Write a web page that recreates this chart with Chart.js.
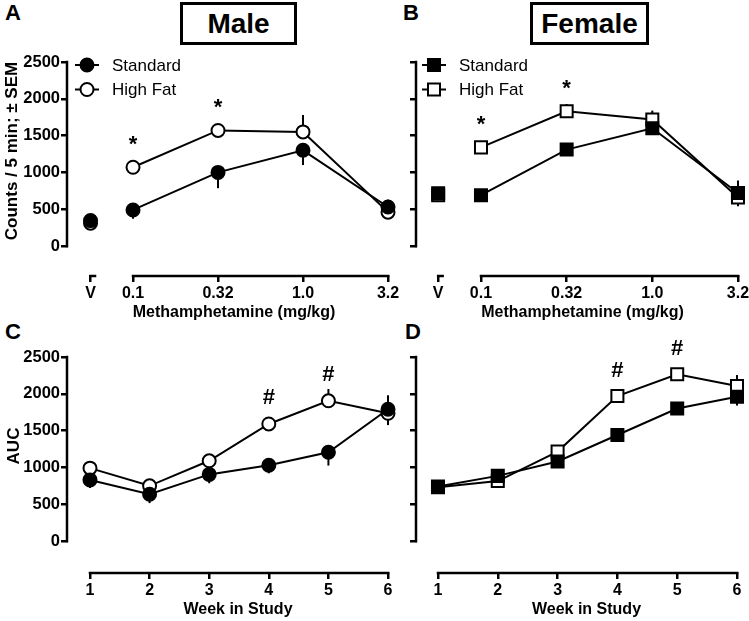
<!DOCTYPE html>
<html>
<head>
<meta charset="utf-8">
<script src="https://cdn.jsdelivr.net/npm/chart.js@4.4.1/dist/chart.umd.min.js"></script>
<style>
  html, body { margin: 0; padding: 0; background: #fff; overflow: hidden; width: 749px; height: 621px; }
  body { position: relative; font-family: 'Liberation Sans', Arial, sans-serif; color: #000; }
  canvas { position: absolute; }
  .letter { position: absolute; font-weight: bold; font-size: 22px; line-height: 22px; }
  .sexbox { position: absolute; border: 3px solid #000; box-sizing: border-box; font-weight: bold;
            font-size: 28px; text-align: center; line-height: 37px; background: #fff; }
</style>
</head>
<body>
<div class="letter" style="left:5px;top:2px">A</div>
<div class="letter" style="left:403px;top:2px">B</div>
<div class="letter" style="left:5px;top:321px">C</div>
<div class="letter" style="left:405px;top:321px">D</div>
<div class="sexbox" style="left:180px;top:2px;width:117px;height:43px">Male</div>
<div class="sexbox" style="left:530px;top:2px;width:119px;height:43px">Female</div>

<canvas id="cA" width="410" height="320" style="left:0;top:0"></canvas>
<canvas id="cB" width="360" height="320" style="left:400px;top:0"></canvas>
<canvas id="cC" width="410" height="311" style="left:0;top:310px"></canvas>
<canvas id="cD" width="360" height="311" style="left:400px;top:310px"></canvas>

<script>
// ---- data ----
const doseLabels = ['V', '0.1', '0.32', '1.0', '3.2'];
const weekLabels = ['1', '2', '3', '4', '5', '6'];
const yTicks = [0, 500, 1000, 1500, 2000, 2500];
const seriesNames = ['Standard', 'High Fat'];

const maleDoseStd    = [345, 490, 1000, 1300, 530];
const maleDoseStdSem = [30, 120, 215, 200, 100];
const maleDoseHF     = [310, 1070, 1570, 1550, 460];
const maleDoseHFSem  = [30, 60, 50, 230, 50];
const maleDoseSig    = ['', '*', '*', '', ''];

const femaleDoseStd    = [715, 690, 1310, 1600, 720];
const femaleDoseStdSem = [40, 40, 80, 60, 170];
const femaleDoseHF     = [690, 1340, 1830, 1720, 660];
const femaleDoseHFSem  = [40, 40, 100, 120, 120];
const femaleDoseSig    = ['', '*', '*', '', ''];

const maleWeekStd    = [830, 635, 905, 1030, 1205, 1790];
const maleWeekStdSem = [110, 120, 120, 110, 180, 190];
const maleWeekHF     = [990, 750, 1090, 1590, 1905, 1735];
const maleWeekHFSem  = [40, 40, 40, 40, 160, 160];
const maleWeekSig    = ['', '', '', '#', '#', ''];

const femaleWeekStd    = [740, 885, 1080, 1440, 1800, 1960];
const femaleWeekStdSem = [60, 75, 70, 70, 60, 120];
const femaleWeekHF     = [730, 815, 1215, 1970, 2265, 2105];
const femaleWeekHFSem  = [40, 40, 40, 40, 40, 150];
const femaleWeekSig    = ['', '', '', '#', '#', ''];

// vehicle sits half a step left of the lowest dose
const doseX = doseLabels.map((_, i) => i === 0 ? -0.5 : i - 1);
const weekX = weekLabels.map(Number);

const FONT = "'Liberation Sans', Arial, sans-serif";

function drawMarker(ctx, style, filled, x, y) {
  ctx.beginPath();
  if (style === 'circle') ctx.arc(x, y, 6.5, 0, Math.PI * 2);
  else ctx.rect(x - 6, y - 6, 12, 12);
  ctx.fillStyle = filled ? '#000' : '#fff';
  ctx.fill();
  ctx.lineWidth = 2;
  ctx.strokeStyle = '#000';
  ctx.stroke();
}

// error bars, axis lines, titles, legend and significance marks
const panelPlugin = {
  id: 'panel',
  beforeDatasetsDraw(chart, args, o) {
    const ctx = chart.ctx, xs = chart.scales.x, ys = chart.scales.y;
    const ds = chart.data.datasets;
    ctx.save();
    ctx.strokeStyle = '#000';
    ctx.lineWidth = 2;
    ds.forEach((d, di) => {
      const other = ds[1 - di];
      d.data.forEach((p, i) => {
        const up = p.y >= other.data[i].y;
        const px = xs.getPixelForValue(p.x);
        ctx.beginPath();
        ctx.moveTo(px, ys.getPixelForValue(p.y));
        ctx.lineTo(px, ys.getPixelForValue(up ? p.y + d.sem[i] : p.y - d.sem[i]));
        ctx.stroke();
      });
    });
    ctx.restore();
  },
  afterDraw(chart, args, o) {
    const ctx = chart.ctx, xs = chart.scales.x, ys = chart.scales.y;
    const area = chart.chartArea;
    ctx.save();
    ctx.strokeStyle = '#000';
    ctx.fillStyle = '#000';
    ctx.lineWidth = 2.5;
    ctx.lineCap = 'butt';
    // y axis line
    ctx.beginPath();
    ctx.moveTo(area.left - 1, ys.getPixelForValue(yTicks[0]) + 1.25);
    ctx.lineTo(area.left - 1, ys.getPixelForValue(yTicks[yTicks.length - 1]) - 1.25);
    ctx.stroke();
    // x axis segments
    const axY = area.bottom + 1;
    o.xSegs.forEach(([a, b]) => {
      const pa = xs.getPixelForValue(a) - 1.25;
      const pb = a === b ? pa + 7 : xs.getPixelForValue(b) + 1.25;
      ctx.beginPath();
      ctx.moveTo(pa, axY);
      ctx.lineTo(pb, axY);
      ctx.stroke();
    });
    // axis titles
    ctx.font = 'bold 16px ' + FONT;
    ctx.textAlign = 'center';
    ctx.textBaseline = 'middle';
    ctx.fillText(o.xTitle, (area.left + area.right) / 2 + (o.xTitleShift || 0), o.xTitleY);
    if (o.yTitle) {
      const mid = (ys.getPixelForValue(0) + ys.getPixelForValue(2500)) / 2;
      ctx.save();
      ctx.font = 'bold 17px ' + FONT;
      ctx.translate(o.yTitleX, mid - 3);
      ctx.rotate(-Math.PI / 2);
      ctx.fillText(o.yTitle, 0, 0);
      ctx.restore();
    }
    // legend
    if (o.legend) {
      chart.data.datasets.forEach((d, i) => {
        const ly = o.legend.y + i * 24.5;
        ctx.lineWidth = 2;
        ctx.beginPath();
        ctx.moveTo(o.legend.x - 12, ly);
        ctx.lineTo(o.legend.x + 12, ly);
        ctx.stroke();
        drawMarker(ctx, d.pointStyle, d.pointBackgroundColor === '#000', o.legend.x, ly);
        ctx.fillStyle = '#000';
        ctx.font = '17px ' + FONT;
        ctx.textAlign = 'left';
        ctx.textBaseline = 'middle';
        ctx.fillText(d.label, o.legend.x + 25, ly + 1);
      });
    }
    // significance marks above the higher point
    ctx.font = 'bold 22px ' + FONT;
    ctx.textAlign = 'center';
    ctx.textBaseline = 'alphabetic';
    o.sig.forEach((s, i) => {
      if (!s) return;
      const d0 = chart.data.datasets[0].data[i], d1 = chart.data.datasets[1].data[i];
      const top = ys.getPixelForValue(Math.max(d0.y, d1.y));
      const m = ctx.measureText(s);
      const cy = top - 27;
      ctx.fillText(s, xs.getPixelForValue(d0.x), cy + (m.actualBoundingBoxAscent - m.actualBoundingBoxDescent) / 2);
    });
    ctx.restore();
  }
};

function makePanel(id, p) {
  const pts = (vals) => vals.map((v, i) => ({ x: p.xs[i], y: v }));
  const base = {
    borderColor: '#000',
    borderWidth: 2,
    pointStyle: p.marker,
    pointRadius: p.marker === 'circle' ? 6.5 : 8.5,
    pointBorderWidth: 2,
    pointBorderColor: '#000',
    tension: 0,
    clip: false,
    segment: p.breakFirst ? { borderColor: c => c.p0DataIndex === 0 ? 'rgba(0,0,0,0)' : '#000' } : undefined
  };
  return new Chart(document.getElementById(id), {
    type: 'line',
    data: {
      datasets: [
        Object.assign({}, base, { label: seriesNames[0], data: pts(p.std), sem: p.stdSem, pointBackgroundColor: '#000' }),
        Object.assign({}, base, { label: seriesNames[1], data: pts(p.hf), sem: p.hfSem, pointBackgroundColor: '#fff' })
      ]
    },
    options: {
      responsive: false,
      animation: false,
      devicePixelRatio: 1,
      layout: { padding: { top: p.padTop, right: p.padRight, left: 0, bottom: 0 } },
      plugins: {
        legend: { display: false },
        tooltip: { enabled: false },
        panel: {
          xSegs: p.xSegs, xTitle: p.xTitle, xTitleY: p.xTitleY, xTitleShift: p.xTitleShift,
          yTitle: p.yTitle, yTitleX: p.yTitleX, legend: p.legend, sig: p.sig
        }
      },
      scales: {
        x: {
          type: 'linear',
          min: p.xMin, max: p.xMax,
          afterBuildTicks: s => { s.ticks = p.xs.map(v => ({ value: v })); },
          afterFit: s => { s.height = p.xH; },
          ticks: {
            callback: (v, i) => p.labels[i],
            autoSkip: false, maxRotation: 0, padding: 2, color: '#000',
            font: { family: FONT, size: 16, weight: 'bold' }
          },
          grid: { drawOnChartArea: false, tickLength: 7, color: '#000', lineWidth: 2.5 },
          border: { display: false }
        },
        y: {
          min: p.yMin, max: 2500,
          afterBuildTicks: s => { s.ticks = yTicks.map(v => ({ value: v })); },
          afterFit: s => { s.width = p.yW; },
          ticks: {
            display: p.showY, padding: 1, color: '#000',
            callback: v => String(v),
            font: { family: FONT, size: 16.5, weight: 'bold' }
          },
          grid: { drawOnChartArea: false, tickLength: 7, color: '#000', lineWidth: 2.5 },
          border: { display: false }
        }
      }
    },
    plugins: [panelPlugin]
  });
}

makePanel('cA', {
  xs: doseX, labels: doseLabels, std: maleDoseStd, stdSem: maleDoseStdSem, hf: maleDoseHF, hfSem: maleDoseHFSem,
  sig: maleDoseSig, marker: 'circle', breakFirst: true,
  yW: 68, xH: 45, padTop: 62, padRight: 10, xMin: -0.765, xMax: 3.141, yMin: -394, showY: true,
  yTitle: 'Counts / 5 min; \u00b1 SEM', yTitleX: 12, xTitle: 'Methamphetamine (mg/kg)', xTitleY: 313,
  legend: { x: 87, y: 65 }, xSegs: [[-0.5, -0.5], [0, 3]]
});
makePanel('cB', {
  xs: doseX, labels: doseLabels, std: femaleDoseStd, stdSem: femaleDoseStdSem, hf: femaleDoseHF, hfSem: femaleDoseHFSem,
  sig: femaleDoseSig, marker: 'rect', breakFirst: true,
  yW: 17, xH: 45, padTop: 62, padRight: 12, xMin: -0.747, xMax: 3.117, yMin: -394, showY: false,
  xTitle: 'Methamphetamine (mg/kg)', xTitleY: 313,
  legend: { x: 34, y: 65 }, xSegs: [[-0.5, -0.5], [0, 3]]
});
makePanel('cC', {
  xs: weekX, labels: weekLabels, std: maleWeekStd, stdSem: maleWeekStdSem, hf: maleWeekHF, hfSem: maleWeekHFSem,
  sig: maleWeekSig, marker: 'circle', breakFirst: false,
  yW: 68, xH: 49, padTop: 47, padRight: 10, xMin: 0.631, xMax: 6.201, yMin: -421, showY: true,
  yTitle: 'AUC', yTitleX: 14, xTitle: 'Week in Study', xTitleY: 300, xTitleShift: 4,
  xSegs: [[1, 6]]
});
makePanel('cD', {
  xs: weekX, labels: weekLabels, std: femaleWeekStd, stdSem: femaleWeekStdSem, hf: femaleWeekHF, hfSem: femaleWeekHFSem,
  sig: femaleWeekSig, marker: 'rect', breakFirst: false,
  yW: 17, xH: 49, padTop: 47, padRight: 12, xMin: 0.649, xMax: 6.184, yMin: -421, showY: false,
  xTitle: 'Week in Study', xTitleY: 300, xTitleShift: 4,
  xSegs: [[1, 6]]
});
</script>
</body>
</html>
